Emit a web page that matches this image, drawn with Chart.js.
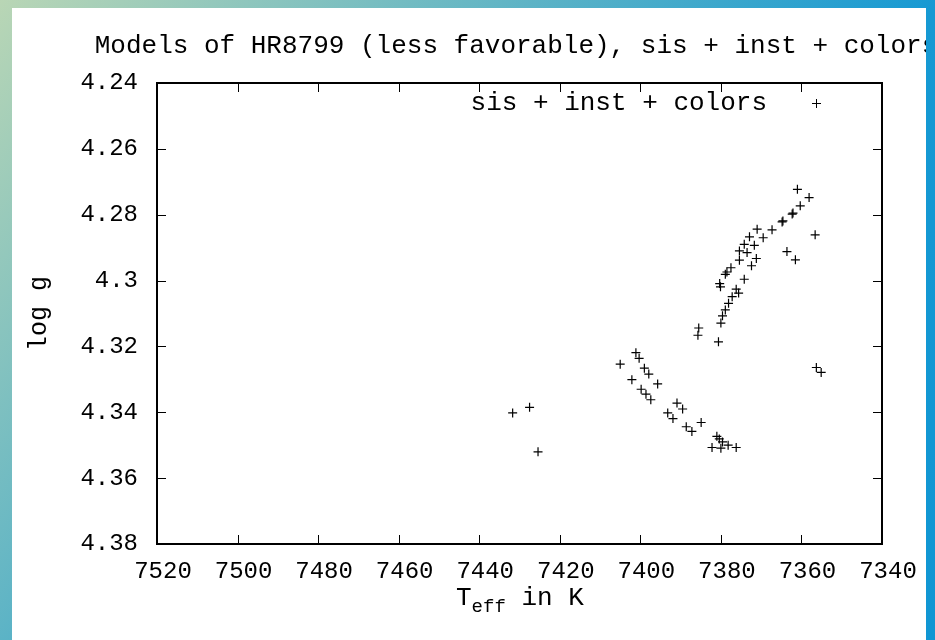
<!DOCTYPE html>
<html lang="en">

<head>
    <meta charset="UTF-8">
    <title>Models of HR8799 (less favorable)</title>
    <script src="https://cdn.jsdelivr.net/npm/chart.js"></script>
    <style>
        html, body {
            margin: 0;
            padding: 0;
        }

        body {
            width: 935px;
            height: 640px;
            overflow: hidden;
            background: linear-gradient(130deg, #b9d6b5 0%, #1699d3 64%, #1096d3 100%);
            position: relative;
        }

        .panel {
            position: absolute;
            left: 12px;
            top: 8px;
            width: 914px;
            height: 632px;
            background: #fff;
            overflow: hidden;
        }

        canvas {
            position: absolute;
            left: -12px;
            top: -8px;
        }
    </style>
</head>

<body>
    <div class="panel">
        <canvas id="hrChart" width="935" height="640"></canvas>
    </div>

    <script>
        // effective temperature (K) and log g of each model
        const teff = [
            7401.1, 7400.3, 7405.0, 7399.0, 7397.9, 7402.1, 7395.7, 7399.8, 7398.6, 7397.4,
            7390.9, 7389.5, 7393.2, 7391.9, 7384.9, 7388.6, 7387.2, 7381.0, 7380.4, 7379.6,
            7378.2, 7382.2, 7380.0, 7376.2, 7431.7, 7427.5, 7425.4,
            7379.6, 7380.0, 7385.5, 7385.7, 7380.6,
            7361.0, 7358.1, 7360.3, 7362.1, 7362.3, 7364.6, 7364.8, 7367.3, 7371.0, 7369.5, 7372.9, 7356.6,
            7374.2, 7371.7, 7375.4, 7373.5, 7363.6, 7361.5, 7375.4, 7371.2, 7372.4, 7377.5, 7378.5, 7378.9,
            7380.3, 7380.1, 7374.2, 7376.2, 7375.6, 7377.2, 7378.1, 7378.9,
            7356.3, 7355.1
        ];
        const logg = [
            4.3219, 4.3236, 4.3254, 4.3266, 4.3284, 4.3301, 4.3314, 4.3330, 4.3345, 4.3362,
            4.3372, 4.3390, 4.3402, 4.3419, 4.3431, 4.3444, 4.3458, 4.3473, 4.3481, 4.3490,
            4.3500, 4.3507, 4.3509, 4.3507, 4.3402, 4.3385, 4.3520,
            4.3107, 4.3129, 4.3144, 4.3166, 4.3186,
            4.2723, 4.2748, 4.2773, 4.2795, 4.2798, 4.2819, 4.2822, 4.2846, 4.2844, 4.2870, 4.2867, 4.2861,
            4.2890, 4.2893, 4.2910, 4.2915, 4.2912, 4.2937, 4.2938, 4.2933, 4.2955, 4.2961, 4.2974, 4.2981,
            4.3009, 4.3019, 4.2996, 4.3026, 4.3038, 4.3049, 4.3069, 4.3089,
            4.3264, 4.3279
        ];

        const xTicks = [7520, 7500, 7480, 7460, 7440, 7420, 7400, 7380, 7360, 7340];
        const yTicks = [4.24, 4.26, 4.28, 4.3, 4.32, 4.34, 4.36, 4.38];

        const chartTitle = "Models of HR8799 (less favorable), sis + inst + colors";
        const seriesName = "sis + inst + colors";

        const MONO = '"Liberation Mono", "DejaVu Sans Mono", monospace';

        // frame, inward ticks on all four sides, title, legend and x label
        const gnuplotFrame = {
            id: 'gnuplotFrame',
            afterDatasetsDraw(chart) {
                const { ctx, chartArea: a, scales } = chart;
                ctx.save();
                ctx.strokeStyle = '#000';
                ctx.lineWidth = 1;
                const tl = 9;
                ctx.beginPath();
                scales.x.ticks.forEach(t => {
                    const px = Math.round(scales.x.getPixelForValue(t.value)) + 0.5;
                    if (px <= a.left + 1 || px >= a.right - 1) return;
                    ctx.moveTo(px, a.bottom); ctx.lineTo(px, a.bottom - tl);
                    ctx.moveTo(px, a.top); ctx.lineTo(px, a.top + tl);
                });
                scales.y.ticks.forEach(t => {
                    const py = Math.round(scales.y.getPixelForValue(t.value)) + 0.5;
                    if (py <= a.top + 1 || py >= a.bottom - 1) return;
                    ctx.moveTo(a.left, py); ctx.lineTo(a.left + tl, py);
                    ctx.moveTo(a.right, py); ctx.lineTo(a.right - tl, py);
                });
                ctx.stroke();

                ctx.lineWidth = 2;
                ctx.strokeRect(a.left, a.top, a.right - a.left, a.bottom - a.top);

                ctx.fillStyle = '#000';
                ctx.textBaseline = 'middle';

                // title
                ctx.font = '26px ' + MONO;
                ctx.textAlign = 'center';
                ctx.fillText(chartTitle, 516, 46);

                // key
                ctx.textAlign = 'right';
                ctx.fillText(seriesName, 767, 103);
                ctx.lineWidth = 1;
                ctx.beginPath();
                ctx.moveTo(812, 103.5); ctx.lineTo(821, 103.5);
                ctx.moveTo(816.5, 99); ctx.lineTo(816.5, 108);
                ctx.stroke();

                // x axis label with subscript
                ctx.textAlign = 'left';
                let x = 456;
                ctx.font = '26px ' + MONO;
                ctx.fillText('T', x, 598);
                x += ctx.measureText('T').width;
                ctx.font = '19px ' + MONO;
                ctx.fillText('eff', x, 607);
                x += ctx.measureText('eff').width;
                ctx.font = '26px ' + MONO;
                ctx.fillText(' in K', x, 598);
                ctx.restore();
            }
        };

        const ctx = document.getElementById('hrChart').getContext('2d');
        const hrChart = new Chart(ctx, {
            type: 'scatter',
            data: {
                datasets: [{
                    label: seriesName,
                    data: teff.map((t, i) => ({ x: t, y: logg[i] })),
                    pointStyle: 'cross',
                    pointRadius: 4.5,
                    pointBorderWidth: 1.2,
                    borderColor: '#000',
                    backgroundColor: '#000'
                }]
            },
            options: {
                responsive: false,
                animation: false,
                layout: { padding: { left: 0, top: 83, right: 53, bottom: 0 } },
                plugins: {
                    legend: { display: false },
                    tooltip: { enabled: false },
                    title: { display: false }
                },
                scales: {
                    x: {
                        type: 'linear',
                        reverse: true,
                        min: xTicks[xTicks.length - 1],
                        max: xTicks[0],
                        border: { display: false },
                        grid: { display: false, drawTicks: false },
                        ticks: {
                            stepSize: 20,
                            padding: 13,
                            labelOffset: 6,
                            color: '#000',
                            font: { family: MONO, size: 24 },
                            maxRotation: 0,
                            callback: v => String(v)
                        },
                        afterFit: s => { s.height = 96; }
                    },
                    y: {
                        type: 'linear',
                        reverse: true,
                        min: yTicks[0],
                        max: yTicks[yTicks.length - 1],
                        border: { display: false },
                        grid: { display: false, drawTicks: false },
                        ticks: {
                            stepSize: 0.02,
                            padding: 19,
                            color: '#000',
                            font: { family: MONO, size: 24 },
                            callback: v => String(parseFloat(v.toFixed(2)))
                        },
                        title: {
                            display: true,
                            text: 'log g',
                            color: '#000',
                            font: { family: MONO, size: 25 },
                            padding: { top: 24, bottom: 0 }
                        },
                        afterFit: s => { s.width = 157; }
                    }
                }
            },
            plugins: [gnuplotFrame]
        });
    </script>
</body>

</html>
